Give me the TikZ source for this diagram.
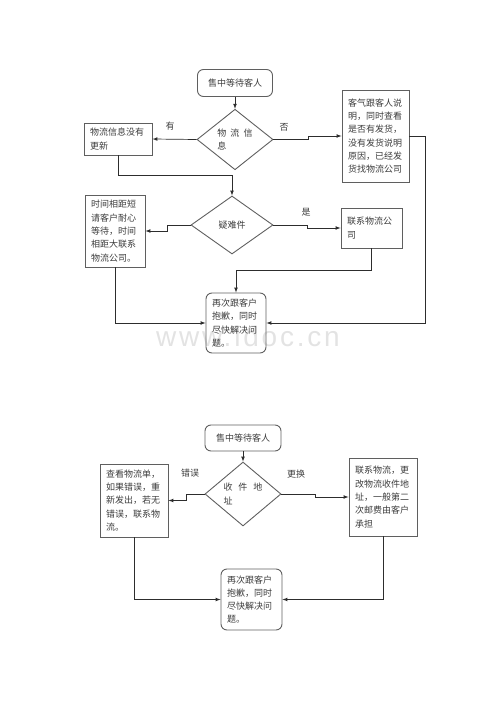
\documentclass[tikz,border=0pt]{standalone}
\usepackage{fontspec}
\setmainfont{Noto Sans CJK SC}
\newfontfamily\spacedcjk[LetterSpace=45]{Noto Sans CJK SC}
\newfontfamily\widecjk[LetterSpace=65]{Noto Sans CJK SC}
\newfontfamily\wmfont[LetterSpace=10]{Liberation Sans}
\usepackage{tikz}
\usetikzlibrary{shapes.geometric,positioning}

\definecolor{linegray}{RGB}{45,45,45}
\definecolor{boxgray}{RGB}{95,95,95}
\definecolor{textgray}{RGB}{60,60,60}

\begin{document}
\begin{tikzpicture}[x=1pt,y=-1pt,>=latex,on grid,
  font=\fontsize{9}{13.3}\selectfont,
  every node/.style={text=textgray},
  box/.style={draw=boxgray,line width=0.9pt,align=left,inner xsep=6pt,inner ysep=2pt},
  rbox/.style={box,rounded corners=6pt},
  dia/.style={diamond,draw=boxgray,line width=0.9pt,align=left,inner sep=1pt,
    minimum width=76pt,minimum height=58pt},
  lbl/.style={font=\fontsize{9}{11}\selectfont},
  link/.style={->,draw=linegray,line width=0.7pt}]
  \useasboundingbox (0,0) rectangle (500,708);

  % watermark behind the chart
  \node[text=gray!22,font=\wmfont\fontsize{28}{28}\selectfont,anchor=base] (wm) at (248,346) {www.ldoc.cn};

  % upper chart
  \node[rbox,text width=63pt,minimum height=27pt,align=center] (start1) at (235,83) {售中等待客人};
  \node[dia,font=\spacedcjk\fontsize{9}{13.3}\selectfont] (info) [below=56.5pt of start1] {物流信\\息};
  \node[box,text width=56pt,minimum height=32pt] (noupd) at (118,139) {物流信息没有\\更新};
  \node[box,text width=55pt,minimum height=92pt] (explain) at (375.5,136)
    {客气跟客人说\\明，同时查看\\是否有发货，\\没有发货说明\\原因，已经发\\货找物流公司};
  \node[dia,minimum width=82pt] (hard) at (232,225) {疑难件};
  \node[box,text width=48pt,minimum height=72pt] (wait) at (115,231)
    {时间相距短\\请客户耐心\\等待，时间\\相距大联系\\物流公司。};
  \node[box,text width=49pt,minimum height=40pt] (contact) at (371.5,228) {联系物流公\\司};
  \node[rbox,text width=48pt,minimum height=60pt] (sorry1) at (236,323)
    {再次跟客户\\抱歉，同时\\尽快解决问\\题。};
  \node[lbl] (yes1) at (170,126) {有};
  \node[lbl] (no1) at (284,127) {否};
  \node[lbl] (yes2) at (306,212) {是};

  \draw[link] (start1) -- (info);
  \draw[link] (info.west) -- (noupd.east);
  \draw[link] (info.east) -- ++(35,0) |- (explain.west);
  \draw[link] (explain.east) -- ++(16,0) |- (sorry1.east);
  \draw[link] (noupd.south) -- ++(0,20) -| (hard.north);
  \draw[link] (hard.west) -- ++(-23,0) |- (wait.east);
  \draw[link] (hard.east) -- ++(34,0) |- (contact.west);
  \draw[link] (wait.south) |- (sorry1.west);
  \draw[link] (contact.south) -- ++(0,22) -| (sorry1.north);

  % lower chart
  \node[rbox,text width=64pt,minimum height=26pt,align=center] (start2) at (243,438) {售中等待客人};
  \node[dia,font=\widecjk\fontsize{9}{13.3}\selectfont] (addr) [below=56pt of start2] {收件地\\址};
  \node[box,text width=56pt,minimum height=73pt] (check) at (134,500.5)
    {查看物流单，\\如果错误，重\\新发出，若无\\错误，联系物\\流。};
  \node[box,text width=56pt,minimum height=78pt] (change) at (383,497)
    {联系物流，更\\改物流收件地\\址，一般第二\\次邮费由客户\\承担};
  \node[rbox,text width=49pt,minimum height=61pt] (sorry2) at (251.5,599.5)
    {再次跟客户\\抱歉，同时\\尽快解决问\\题。};
  \node[lbl] (wrong) at (190,473) {错误};
  \node[lbl] (swap) at (296,474) {更换};

  \draw[link] (start2) -- (addr);
  \draw[link] (addr.west) -- ++(-18,0) |- (check.east);
  \draw[link] (addr.east) -- ++(34,0) |- (change.west);
  \draw[link] (check.south) |- (sorry2.west);
  \draw[link] (change.south) |- (sorry2.east);
\end{tikzpicture}
\end{document}
